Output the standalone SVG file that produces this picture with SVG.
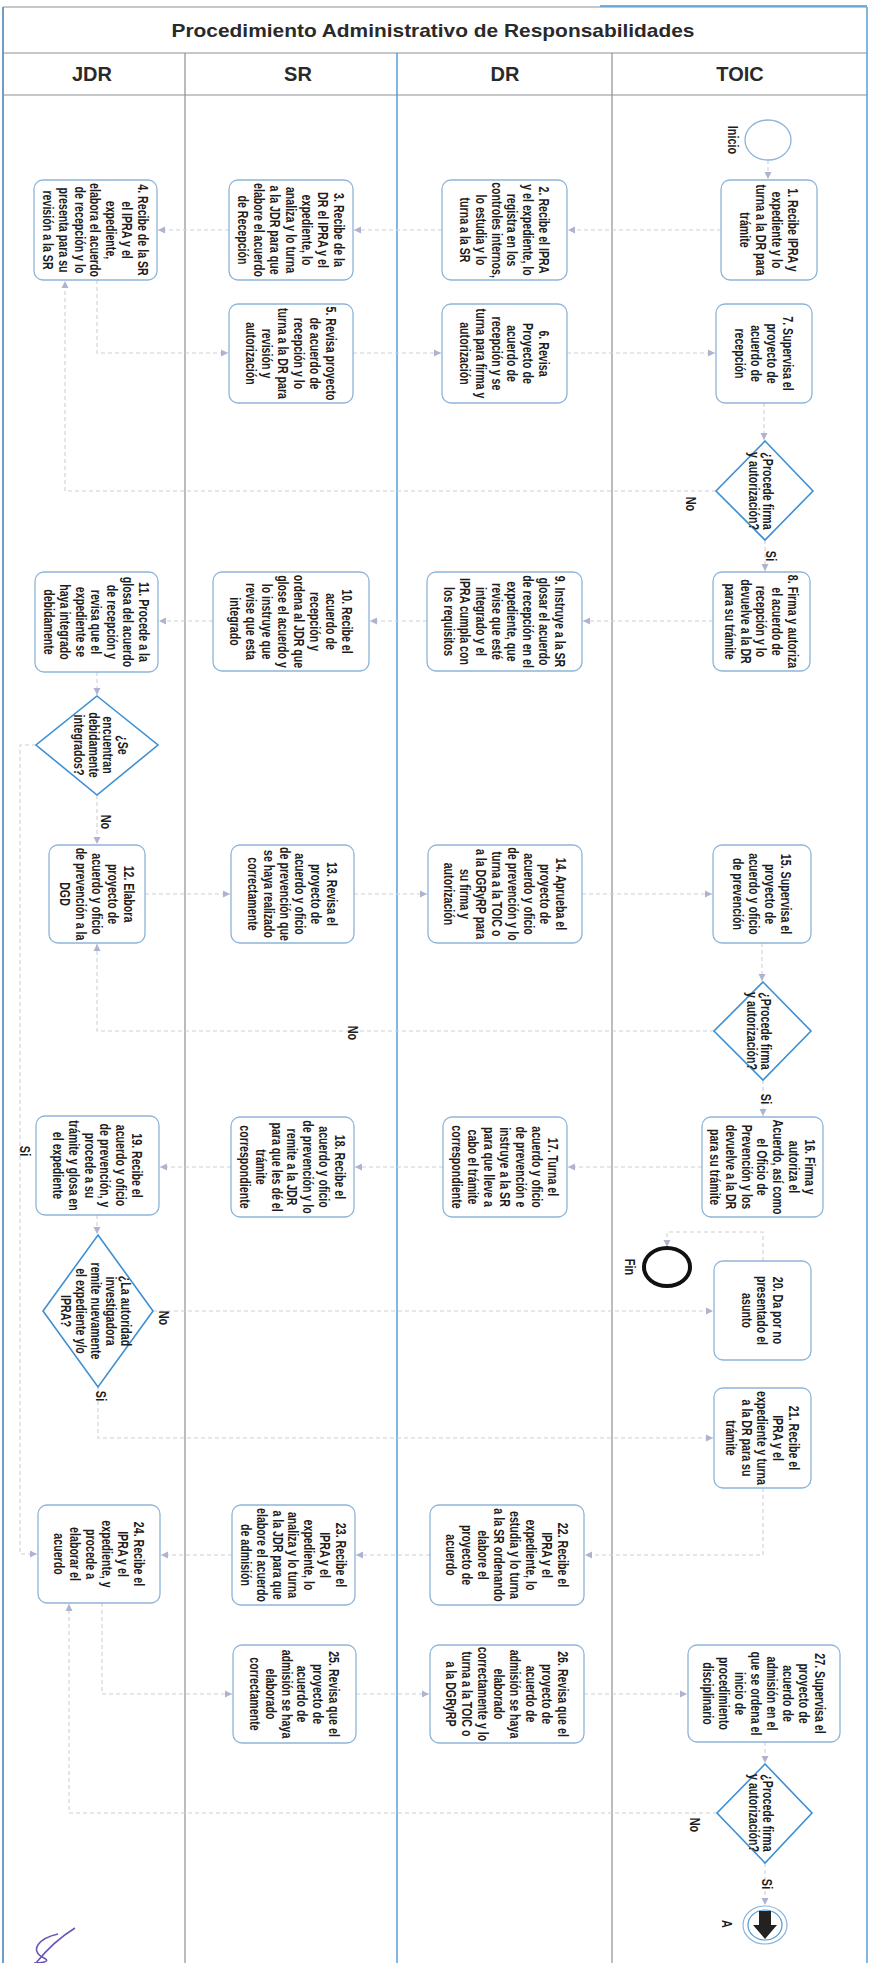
<svg xmlns="http://www.w3.org/2000/svg" width="870" height="1963" viewBox="0 0 870 1963">
<defs>
<marker id="ar" markerWidth="8" markerHeight="8" refX="7" refY="4" orient="auto" markerUnits="userSpaceOnUse">
<path d="M0,0.5 L7,4 L0,7.5 z" fill="#aeb3cf"/>
</marker>
<style>
.t{font-family:"Liberation Sans",Arial,sans-serif;font-size:14px;font-weight:bold;fill:#1c1c1c;text-anchor:middle}
.hd{font-family:"Liberation Sans",Arial,sans-serif;font-weight:bold;fill:#2a2a2a;text-anchor:middle}
.node rect{fill:#fff;stroke:#8db4d9;stroke-width:1.3}
.dia{fill:#fff;stroke:#3d8fd3;stroke-width:1.6}
.c{fill:none;stroke:#cdd0db;stroke-width:1.1;stroke-dasharray:4 3;marker-end:url(#ar)}
.lg{stroke:#8c9096;stroke-width:1.2}
.lb{stroke:#4a9ad8;stroke-width:1.4}
</style>
</defs>
<rect x="0" y="0" width="870" height="1963" fill="#fff"/>

<g id="frame">
<line class="lg" x1="3" y1="7" x2="867" y2="7"/>
<line class="lb" x1="600" y1="6" x2="867" y2="6"/>
<line class="lg" x1="3" y1="53" x2="867" y2="53"/>
<line class="lg" x1="3" y1="95" x2="867" y2="95"/>
<line class="lb" x1="3" y1="7" x2="3" y2="1963" style="stroke:#6f9cc4;stroke-width:2"/>
<line class="lb" x1="867" y1="7" x2="867" y2="1963"/>
<line class="lg" x1="185" y1="53" x2="185" y2="1963"/>
<line class="lb" x1="397" y1="53" x2="397" y2="1963"/>
<line class="lg" x1="612" y1="53" x2="612" y2="1963"/>
<text class="hd" x="433" y="37" font-size="19" textLength="523" lengthAdjust="spacingAndGlyphs">Procedimiento Administrativo de Responsabilidades</text>
<text class="hd" x="92" y="81" font-size="20">JDR</text>
<text class="hd" x="298" y="81" font-size="20">SR</text>
<text class="hd" x="505" y="81" font-size="20">DR</text>
<text class="hd" x="740" y="81" font-size="20">TOIC</text>
</g>

<g id="connectors">
<path class="c" d="M768,160 V179"/>
<path class="c" d="M721,230 H568"/>
<path class="c" d="M442,230 H354"/>
<path class="c" d="M229,230 H158"/>
<path class="c" d="M97,280 V353 H228"/>
<path class="c" d="M353,353 H441"/>
<path class="c" d="M567,353 H715"/>
<path class="c" d="M764,403 V440"/>
<path class="c" d="M765,540 V571"/>
<path class="c" d="M716,491 H65 V281"/>
<path class="c" d="M713,621 H583"/>
<path class="c" d="M427,621 H370"/>
<path class="c" d="M213,621 H159"/>
<path class="c" d="M97,672 V695"/>
<path class="c" d="M97,795 V844"/>
<path class="c" d="M36,745 H20 V1554 H37"/>
<path class="c" d="M145,894 H230"/>
<path class="c" d="M354,894 H427"/>
<path class="c" d="M582,894 H712"/>
<path class="c" d="M762,943 V981"/>
<path class="c" d="M763,1080 V1116"/>
<path class="c" d="M714,1031 H97 V944"/>
<path class="c" d="M702,1167 H568"/>
<path class="c" d="M443,1167 H355"/>
<path class="c" d="M231,1167 H160"/>
<path class="c" d="M97,1215 V1234"/>
<path class="c" d="M153,1311 H713"/>
<path class="c" d="M98,1387 V1438 H713"/>
<path class="c" d="M763,1261 V1232 H667 V1247"/>
<path class="c" d="M763,1488 V1555 H585"/>
<path class="c" d="M430,1555 H356"/>
<path class="c" d="M232,1555 H161"/>
<path class="c" d="M102,1603 V1694 H232"/>
<path class="c" d="M356,1694 H429"/>
<path class="c" d="M584,1694 H687"/>
<path class="c" d="M765,1742 V1763"/>
<path class="c" d="M765,1863 V1905"/>
<path class="c" d="M717,1813 H69 V1604"/>
</g>

<g id="labels">
<text class="t" transform="translate(691,504) rotate(90) scale(0.78,1)" y="5">No</text>
<text class="t" transform="translate(771,556) rotate(90) scale(0.78,1)" y="5">Si</text>
<text class="t" transform="translate(106,822) rotate(90) scale(0.78,1)" y="5">No</text>
<text class="t" transform="translate(25,1151) rotate(90) scale(0.78,1)" y="5">Si</text>
<text class="t" transform="translate(353,1033) rotate(90) scale(0.78,1)" y="5">No</text>
<text class="t" transform="translate(766,1099) rotate(90) scale(0.78,1)" y="5">Si</text>
<text class="t" transform="translate(164,1318) rotate(90) scale(0.78,1)" y="5">No</text>
<text class="t" transform="translate(101,1396) rotate(90) scale(0.78,1)" y="5">Si</text>
<text class="t" transform="translate(695,1825) rotate(90) scale(0.78,1)" y="5">No</text>
<text class="t" transform="translate(767,1884) rotate(90) scale(0.78,1)" y="5">Si</text>
</g>

<g id="inicio">
<ellipse cx="768" cy="140" rx="23" ry="20" fill="#fff" stroke="#8db4d9" stroke-width="1.3"/>
<text class="t" transform="translate(733,140) rotate(90) scale(0.78,1)" y="5">Inicio</text>
</g>

<g id="n1" class="node"><rect x="721" y="180" width="96" height="100" rx="9"/><text class="t" transform="translate(769,230) rotate(90) scale(0.76,1)"><tspan x="0" y="-19">1. Recibe IPRA y</tspan><tspan x="0" y="-3">expediente y lo</tspan><tspan x="0" y="13">turna a la DR para</tspan><tspan x="0" y="29">trámite</tspan></text></g>

<g id="n2" class="node"><rect x="442" y="180" width="125" height="100" rx="9"/><text class="t" transform="translate(504.5,230) rotate(90) scale(0.76,1)"><tspan x="0" y="-35">2. Recibe el IPRA</tspan><tspan x="0" y="-19">y el expediente, lo</tspan><tspan x="0" y="-3">registra en los</tspan><tspan x="0" y="13">controles internos,</tspan><tspan x="0" y="29">lo estudia y lo</tspan><tspan x="0" y="45">turna a la SR</tspan></text></g>

<g id="n3" class="node"><rect x="229" y="180" width="124" height="100" rx="9"/><text class="t" transform="translate(291,230) rotate(90) scale(0.76,1)"><tspan x="0" y="-43">3. Recibe de la</tspan><tspan x="0" y="-27">DR el IPRA y el</tspan><tspan x="0" y="-11">expediente, lo</tspan><tspan x="0" y="5">analiza y lo turna</tspan><tspan x="0" y="21">a la JDR para que</tspan><tspan x="0" y="37">elabore el acuerdo</tspan><tspan x="0" y="53">de Recepción</tspan></text></g>

<g id="n4" class="node"><rect x="34" y="180" width="123" height="100" rx="9"/><text class="t" transform="translate(95.5,230) rotate(90) scale(0.76,1)"><tspan x="0" y="-43">4. Recibe de la SR</tspan><tspan x="0" y="-27">el IPRA y el</tspan><tspan x="0" y="-11">expediente,</tspan><tspan x="0" y="5">elabora el acuerdo</tspan><tspan x="0" y="21">de recepción y lo</tspan><tspan x="0" y="37">presenta para su</tspan><tspan x="0" y="53">revisión a la SR</tspan></text></g>

<g id="n5" class="node"><rect x="229" y="304" width="124" height="99" rx="9"/><text class="t" transform="translate(291,353.5) rotate(90) scale(0.76,1)"><tspan x="0" y="-35">5. Revisa proyecto</tspan><tspan x="0" y="-19">de acuerdo de</tspan><tspan x="0" y="-3">recepción y lo</tspan><tspan x="0" y="13">turna a la DR para</tspan><tspan x="0" y="29">revisión y</tspan><tspan x="0" y="45">autorización</tspan></text></g>

<g id="n6" class="node"><rect x="442" y="304" width="125" height="99" rx="9"/><text class="t" transform="translate(504.5,353.5) rotate(90) scale(0.76,1)"><tspan x="0" y="-35">6. Revisa</tspan><tspan x="0" y="-19">Proyecto de</tspan><tspan x="0" y="-3">acuerdo de</tspan><tspan x="0" y="13">recepción y se</tspan><tspan x="0" y="29">turna para firma y</tspan><tspan x="0" y="45">autorización</tspan></text></g>

<g id="n7" class="node"><rect x="716" y="304" width="96" height="99" rx="9"/><text class="t" transform="translate(764,353.5) rotate(90) scale(0.76,1)"><tspan x="0" y="-19">7. Supervisa el</tspan><tspan x="0" y="-3">proyecto de</tspan><tspan x="0" y="13">acuerdo de</tspan><tspan x="0" y="29">recepción</tspan></text></g>

<g id="d1"><polygon class="dia" points="765,441 813,491 765,540 716,491"/><text class="t" transform="translate(761,491) rotate(90) scale(0.76,1)"><tspan x="0" y="-2">¿Procede firma</tspan><tspan x="0" y="12">y autorización?</tspan></text></g>

<g id="n8" class="node"><rect x="713" y="572" width="97" height="99" rx="9"/><text class="t" transform="translate(761.5,621.5) rotate(90) scale(0.76,1)"><tspan x="0" y="-27">8. Firma y autoriza</tspan><tspan x="0" y="-11">el acuerdo de</tspan><tspan x="0" y="5">recepción y lo</tspan><tspan x="0" y="21">devuelve a la DR</tspan><tspan x="0" y="37">para su trámite</tspan></text></g>

<g id="n9" class="node"><rect x="427" y="572" width="155" height="99" rx="9"/><text class="t" transform="translate(504.5,621.5) rotate(90) scale(0.76,1)"><tspan x="0" y="-51">9. Instruye a la SR</tspan><tspan x="0" y="-35">glosar el acuerdo</tspan><tspan x="0" y="-19">de recepción en el</tspan><tspan x="0" y="-3">expediente, que</tspan><tspan x="0" y="13">revise que esté</tspan><tspan x="0" y="29">integrado y el</tspan><tspan x="0" y="45">IPRA cumpla con</tspan><tspan x="0" y="61">los requisitos</tspan></text></g>

<g id="n10" class="node"><rect x="213" y="572" width="156" height="99" rx="9"/><text class="t" transform="translate(291,621.5) rotate(90) scale(0.76,1)"><tspan x="0" y="-51">10. Recibe el</tspan><tspan x="0" y="-35">acuerdo de</tspan><tspan x="0" y="-19">recepción y</tspan><tspan x="0" y="-3">ordena al JDR que</tspan><tspan x="0" y="13">glose el acuerdo y</tspan><tspan x="0" y="29">lo instruye que</tspan><tspan x="0" y="45">revise que esta</tspan><tspan x="0" y="61">integrado</tspan></text></g>

<g id="n11" class="node"><rect x="35" y="572" width="123" height="100" rx="9"/><text class="t" transform="translate(96.5,622) rotate(90) scale(0.76,1)"><tspan x="0" y="-43">11. Procede a la</tspan><tspan x="0" y="-27">glosa del acuerdo</tspan><tspan x="0" y="-11">de recepción y</tspan><tspan x="0" y="5">revisa que el</tspan><tspan x="0" y="21">expediente se</tspan><tspan x="0" y="37">haya integrado</tspan><tspan x="0" y="53">debidamente</tspan></text></g>

<g id="d_int"><polygon class="dia" points="97,696 158,745 97,795 36,745"/><text class="t" transform="translate(101,745) rotate(90) scale(0.76,1)"><tspan x="0" y="-17.5">¿Se</tspan><tspan x="0" y="-2.5">encuentran</tspan><tspan x="0" y="12.5">debidamente</tspan><tspan x="0" y="27.5">integrados?</tspan></text></g>

<g id="n12" class="node"><rect x="49" y="845" width="96" height="98" rx="9"/><text class="t" transform="translate(97,894) rotate(90) scale(0.76,1)"><tspan x="0" y="-27">12. Elabora</tspan><tspan x="0" y="-11">proyecto de</tspan><tspan x="0" y="5">acuerdo y oficio</tspan><tspan x="0" y="21">de prevención a la</tspan><tspan x="0" y="37">DGD</tspan></text></g>

<g id="n13" class="node"><rect x="231" y="845" width="123" height="98" rx="9"/><text class="t" transform="translate(292.5,894) rotate(90) scale(0.76,1)"><tspan x="0" y="-35">13. Revisa el</tspan><tspan x="0" y="-19">proyecto de</tspan><tspan x="0" y="-3">acuerdo y oficio</tspan><tspan x="0" y="13">de prevención que</tspan><tspan x="0" y="29">se haya realizado</tspan><tspan x="0" y="45">correctamente</tspan></text></g>

<g id="n14" class="node"><rect x="428" y="845" width="154" height="98" rx="9"/><text class="t" transform="translate(505,894) rotate(90) scale(0.76,1)"><tspan x="0" y="-51">14. Aprueba el</tspan><tspan x="0" y="-35">proyecto de</tspan><tspan x="0" y="-19">acuerdo y oficio</tspan><tspan x="0" y="-3">de prevención y lo</tspan><tspan x="0" y="13">turna a la TOIC o</tspan><tspan x="0" y="29">a la DGRyRP para</tspan><tspan x="0" y="45">su firma y</tspan><tspan x="0" y="61">autorización</tspan></text></g>

<g id="n15" class="node"><rect x="713" y="845" width="98" height="98" rx="9"/><text class="t" transform="translate(762,894) rotate(90) scale(0.76,1)"><tspan x="0" y="-19">15. Supervisa el</tspan><tspan x="0" y="-3">proyecto de</tspan><tspan x="0" y="13">acuerdo y oficio</tspan><tspan x="0" y="29">de prevención</tspan></text></g>

<g id="d2"><polygon class="dia" points="763,982 811,1031 763,1080 714,1031"/><text class="t" transform="translate(759,1031) rotate(90) scale(0.76,1)"><tspan x="0" y="-2">¿Procede firma</tspan><tspan x="0" y="12">y autorización?</tspan></text></g>

<g id="n16" class="node"><rect x="702" y="1117" width="121" height="100" rx="9"/><text class="t" transform="translate(762.5,1167) rotate(90) scale(0.76,1)"><tspan x="0" y="-43">16. Firma y</tspan><tspan x="0" y="-27">autoriza el</tspan><tspan x="0" y="-11">Acuerdo, así como</tspan><tspan x="0" y="5">el Oficio de</tspan><tspan x="0" y="21">Prevención y los</tspan><tspan x="0" y="37">devuelve a la DR</tspan><tspan x="0" y="53">para su trámite</tspan></text></g>

<g id="n17" class="node"><rect x="443" y="1117" width="124" height="100" rx="9"/><text class="t" transform="translate(505,1167) rotate(90) scale(0.76,1)"><tspan x="0" y="-43">17. Turna el</tspan><tspan x="0" y="-27">acuerdo y oficio</tspan><tspan x="0" y="-11">de prevención e</tspan><tspan x="0" y="5">instruye a la SR</tspan><tspan x="0" y="21">para que lleve a</tspan><tspan x="0" y="37">cabo el trámite</tspan><tspan x="0" y="53">correspondiente</tspan></text></g>

<g id="n18" class="node"><rect x="231" y="1117" width="123" height="100" rx="9"/><text class="t" transform="translate(292.5,1167) rotate(90) scale(0.76,1)"><tspan x="0" y="-43">18. Recibe el</tspan><tspan x="0" y="-27">acuerdo y oficio</tspan><tspan x="0" y="-11">de prevención y lo</tspan><tspan x="0" y="5">remite a la JDR</tspan><tspan x="0" y="21">para que les dé el</tspan><tspan x="0" y="37">trámite</tspan><tspan x="0" y="53">correspondiente</tspan></text></g>

<g id="n19" class="node"><rect x="36" y="1116" width="123" height="99" rx="9"/><text class="t" transform="translate(97.5,1165.5) rotate(90) scale(0.76,1)"><tspan x="0" y="-35">19. Recibe el</tspan><tspan x="0" y="-19">acuerdo y oficio</tspan><tspan x="0" y="-3">de prevención, y</tspan><tspan x="0" y="13">procede a su</tspan><tspan x="0" y="29">trámite y glosa en</tspan><tspan x="0" y="45">el expediente</tspan></text></g>

<g id="d3"><polygon class="dia" points="98,1235 153,1311 98,1387 43,1311"/><text class="t" transform="translate(96,1311) rotate(90) scale(0.76,1)"><tspan x="0" y="-25">¿La autoridad</tspan><tspan x="0" y="-10">investigadora</tspan><tspan x="0" y="5">remite nuevamente</tspan><tspan x="0" y="20">el expediente y/o</tspan><tspan x="0" y="35">IPRA?</tspan></text></g>

<g id="fin">
<ellipse cx="667" cy="1267" rx="23" ry="19" fill="#fff" stroke="#111" stroke-width="4"/>
<text class="t" transform="translate(630,1267) rotate(90) scale(0.78,1)" y="5">Fin</text>
</g>

<g id="n20" class="node"><rect x="714" y="1261" width="97" height="99" rx="9"/><text class="t" transform="translate(762.5,1310.5) rotate(90) scale(0.76,1)"><tspan x="0" y="-11">20. Da por no</tspan><tspan x="0" y="5">presentado el</tspan><tspan x="0" y="21">asunto</tspan></text></g>

<g id="n21" class="node"><rect x="714" y="1388" width="97" height="100" rx="9"/><text class="t" transform="translate(762.5,1438) rotate(90) scale(0.76,1)"><tspan x="0" y="-27">21. Recibe el</tspan><tspan x="0" y="-11">IPRA y el</tspan><tspan x="0" y="5">expediente y turna</tspan><tspan x="0" y="21">a la DR para su</tspan><tspan x="0" y="37">trámite</tspan></text></g>

<g id="n22" class="node"><rect x="430" y="1505" width="154" height="100" rx="9"/><text class="t" transform="translate(507,1555) rotate(90) scale(0.76,1)"><tspan x="0" y="-51">22. Recibe el</tspan><tspan x="0" y="-35">IPRA y el</tspan><tspan x="0" y="-19">expediente, lo</tspan><tspan x="0" y="-3">estudia y lo turna</tspan><tspan x="0" y="13">a la SR ordenando</tspan><tspan x="0" y="29">elabore el</tspan><tspan x="0" y="45">proyecto de</tspan><tspan x="0" y="61">acuerdo</tspan></text></g>

<g id="n23" class="node"><rect x="232" y="1505" width="123" height="100" rx="9"/><text class="t" transform="translate(293.5,1555) rotate(90) scale(0.76,1)"><tspan x="0" y="-43">23. Recibe el</tspan><tspan x="0" y="-27">IPRA y el</tspan><tspan x="0" y="-11">expediente, lo</tspan><tspan x="0" y="5">analiza y lo turna</tspan><tspan x="0" y="21">a la JDR para que</tspan><tspan x="0" y="37">elabore el acuerdo</tspan><tspan x="0" y="53">de admisión</tspan></text></g>

<g id="n24" class="node"><rect x="38" y="1505" width="122" height="98" rx="9"/><text class="t" transform="translate(99,1554) rotate(90) scale(0.76,1)"><tspan x="0" y="-35">24. Recibe el</tspan><tspan x="0" y="-19">IPRA y el</tspan><tspan x="0" y="-3">expediente, y</tspan><tspan x="0" y="13">procede a</tspan><tspan x="0" y="29">elaborar el</tspan><tspan x="0" y="45">acuerdo</tspan></text></g>

<g id="n25" class="node"><rect x="233" y="1645" width="123" height="98" rx="9"/><text class="t" transform="translate(294.5,1694) rotate(90) scale(0.76,1)"><tspan x="0" y="-35">25. Revisa que el</tspan><tspan x="0" y="-19">proyecto de</tspan><tspan x="0" y="-3">acuerdo de</tspan><tspan x="0" y="13">admisión se haya</tspan><tspan x="0" y="29">elaborado</tspan><tspan x="0" y="45">correctamente</tspan></text></g>

<g id="n26" class="node"><rect x="430" y="1645" width="154" height="98" rx="9"/><text class="t" transform="translate(507,1694) rotate(90) scale(0.76,1)"><tspan x="0" y="-51">26. Revisa que el</tspan><tspan x="0" y="-35">proyecto de</tspan><tspan x="0" y="-19">acuerdo de</tspan><tspan x="0" y="-3">admisión se haya</tspan><tspan x="0" y="13">elaborado</tspan><tspan x="0" y="29">correctamente y lo</tspan><tspan x="0" y="45">turna a la TOIC o</tspan><tspan x="0" y="61">a la DGRyRP</tspan></text></g>

<g id="n27" class="node"><rect x="688" y="1645" width="152" height="97" rx="9"/><text class="t" transform="translate(764,1693.5) rotate(90) scale(0.76,1)"><tspan x="0" y="-51">27. Supervisa el</tspan><tspan x="0" y="-35">proyecto de</tspan><tspan x="0" y="-19">acuerdo de</tspan><tspan x="0" y="-3">admisión en el</tspan><tspan x="0" y="13">que se ordena el</tspan><tspan x="0" y="29">inicio de</tspan><tspan x="0" y="45">procedimiento</tspan><tspan x="0" y="61">disciplinario</tspan></text></g>

<g id="d4"><polygon class="dia" points="765,1764 812,1813 765,1863 717,1813"/><text class="t" transform="translate(761,1813) rotate(90) scale(0.76,1)"><tspan x="0" y="-2">¿Procede firma</tspan><tspan x="0" y="12">y autorización?</tspan></text></g>

<g id="conA">
<ellipse cx="765" cy="1925" rx="22" ry="19" fill="#fff" stroke="#8db4d9" stroke-width="1.2"/>
<ellipse cx="765" cy="1925" rx="17" ry="15" fill="#fff" stroke="#4a9ad8" stroke-width="1.2"/>
<polygon points="759,1911 771,1911 771,1925 777,1925 765,1939 753,1925 759,1925" fill="#222"/>
<text class="t" transform="translate(727,1924) rotate(90) scale(0.78,1)" y="5">A</text>
</g>

<path d="M75,1928 C62,1936 48,1948 36,1963 M58,1934 C40,1938 28,1950 44,1958 C52,1962 40,1963 34,1963" fill="none" stroke="#6b55b5" stroke-width="1.6"/>
</svg>
